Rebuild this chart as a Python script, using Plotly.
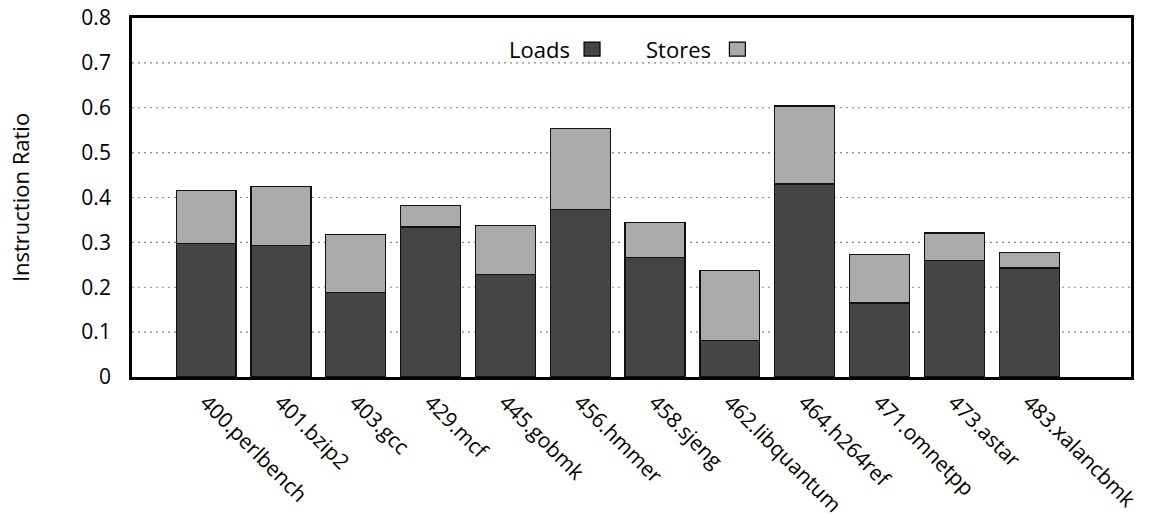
import plotly.graph_objects as go

categories = ["400.perlbench", "401.bzip2", "403.gcc", "429.mcf", "445.gobmk", "456.hmmer",
              "458.sjeng", "462.libquantum", "464.h264ref", "471.omnetpp", "473.astar", "483.xalancbmk"]
loads = [0.297, 0.293, 0.189, 0.334, 0.228, 0.373, 0.267, 0.081, 0.430, 0.165, 0.260, 0.243]
stores = [0.118, 0.132, 0.128, 0.048, 0.110, 0.181, 0.078, 0.157, 0.174, 0.108, 0.061, 0.035]
y_ticks = [0, 0.1, 0.2, 0.3, 0.4, 0.5, 0.6, 0.7, 0.8]
y_tick_text = ["0", "0.1", "0.2", "0.3", "0.4", "0.5", "0.6", "0.7", "0.8"]

LOAD_C = "#454545"
STORE_C = "#aaaaaa"
FONT = "Open Sans"
xs = list(range(len(categories)))

fig = go.Figure()
fig.add_trace(go.Bar(x=xs, y=loads, name="Loads", marker=dict(color=LOAD_C, line=dict(color="#111", width=1.3)), width=0.8))
fig.add_trace(go.Bar(x=xs, y=stores, name="Stores", marker=dict(color=STORE_C, line=dict(color="#111", width=1.3)), width=0.8))

# dotted gridlines
for v in y_ticks[1:-1]:
    fig.add_shape(type="line", xref="paper", x0=0, x1=1, yref="y", y0=v, y1=v,
                  line=dict(color="#888", width=1.2, dash="2px,4px"), layer="below")

# custom legend: text then swatch
leg = [("Loads", LOAD_C, 0.440, 0.4525), ("Stores", STORE_C, 0.5816, 0.598)]
for name, col, xt, xs0 in leg:
    fig.add_annotation(text=name, xref="paper", yref="paper", x=xt, y=0.915,
                       xanchor="right", yanchor="middle", showarrow=False,
                       font=dict(family=FONT, size=22, color="black"))
    fig.add_shape(type="rect", xref="paper", yref="paper", x0=xs0, x1=xs0 + 0.016,
                  y0=0.894, y1=0.933, fillcolor=col, line=dict(color="black", width=1.2))

fig.update_layout(
    width=1159, height=517,
    margin=dict(l=132, r=28, t=18, b=140),
    barmode="stack",
    showlegend=False,
    plot_bgcolor="white", paper_bgcolor="white",
    font=dict(family=FONT, size=21, color="black"),
)
fig.update_xaxes(range=[-0.99, 12.36], tickvals=xs, ticktext=categories, tickangle=45,
                 showline=True, linecolor="black", linewidth=2.8, mirror=True,
                 showgrid=False, ticks="", zeroline=False, tickfont=dict(size=21),
                 ticklabelstandoff=2, automargin=False)
fig.update_yaxes(range=[0, 0.8], tickvals=y_ticks, ticktext=y_tick_text,
                 showline=True, linecolor="black", linewidth=2.8, mirror=True,
                 showgrid=False, ticks="", zeroline=False,
                 ticklabelstandoff=14, automargin=False,
                 title=dict(text="Instruction Ratio", standoff=46, font=dict(size=22)),
                 tickfont=dict(size=21))

fig.write_html("out.html")
